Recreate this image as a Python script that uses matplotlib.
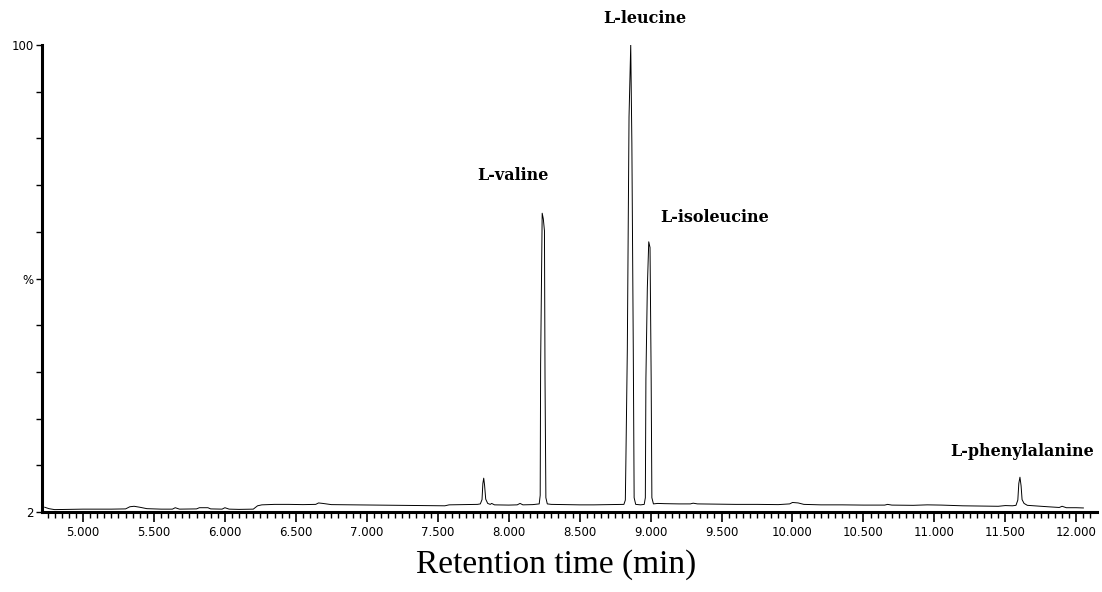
"""
Chromatogram of branched-chain / aromatic amino acids (TIC, % relative intensity).
Re-drawn from a scanned figure: retention time vs. relative abundance.
"""

import numpy as np
import matplotlib
matplotlib.use("Agg")
import matplotlib.pyplot as plt
from matplotlib.ticker import MultipleLocator, FixedLocator

# Trace: retention time (min) and relative intensity (%)
RT = [
    4.73, 4.76, 4.80, 4.90, 5.00, 5.10, 5.20, 5.30, 5.33, 5.36, 5.40, 5.45,
    5.55, 5.63, 5.65, 5.68, 5.80, 5.82, 5.88, 5.90, 5.98, 6.00, 6.03, 6.10,
    6.20, 6.23, 6.26, 6.35, 6.45, 6.55, 6.64, 6.66, 6.69, 6.75, 6.90, 7.05,
    7.20, 7.35, 7.50, 7.55, 7.58, 7.70, 7.78,
    7.800, 7.812, 7.818, 7.824, 7.830, 7.838, 7.852, 7.870,
    7.88, 7.90, 8.00, 8.06, 8.08, 8.10, 8.17,
    8.215, 8.222, 8.225, 8.236, 8.244, 8.252, 8.256, 8.262, 8.272,
    8.30, 8.40, 8.50, 8.60, 8.70, 8.80,
    8.812, 8.822, 8.826, 8.836, 8.848, 8.860, 8.868, 8.878, 8.884, 8.895,
    8.93,
    8.955, 8.963, 8.967, 8.977, 8.987, 8.996, 9.004, 9.009, 9.020,
    9.05, 9.10, 9.20, 9.28, 9.30, 9.33, 9.45, 9.60, 9.75, 9.90, 9.98, 10.00,
    10.04, 10.08, 10.20, 10.35, 10.50, 10.65, 10.67, 10.70, 10.85, 10.95,
    11.05, 11.20, 11.35, 11.45, 11.50, 11.55,
    11.575, 11.588, 11.595, 11.603, 11.611, 11.618, 11.632, 11.655,
    11.70, 11.80, 11.88, 11.90, 11.93, 12.00, 12.05,
]
INTENSITY = [
    3.0, 2.7, 2.5, 2.55, 2.6, 2.6, 2.6, 2.65, 3.1, 3.2, 3.0, 2.7,
    2.6, 2.6, 2.9, 2.6, 2.65, 2.9, 2.9, 2.65, 2.6, 2.9, 2.6, 2.55,
    2.6, 3.3, 3.5, 3.6, 3.6, 3.55, 3.6, 3.9, 3.8, 3.55, 3.5, 3.45,
    3.4, 3.35, 3.3, 3.3, 3.5, 3.55, 3.6,
    3.7, 4.6, 8.0, 9.1, 7.6, 4.7, 3.8, 3.6,
    3.8, 3.5, 3.45, 3.5, 3.8, 3.5, 3.55,
    3.7, 5.5, 33.0, 64.7, 63.5, 61.0, 30.0, 5.0, 3.7,
    3.6, 3.55, 3.5, 3.5, 3.55, 3.6,
    3.6, 4.5, 13.0, 36.0, 84.9, 100.0, 79.4, 36.0, 5.0, 3.6,
    3.5,
    3.6, 5.0, 30.0, 49.0, 58.7, 57.5, 30.0, 5.0, 3.7,
    3.8, 3.75, 3.7, 3.7, 3.85, 3.7, 3.65, 3.6, 3.6, 3.55, 3.7, 4.0,
    3.9, 3.6, 3.5, 3.5, 3.45, 3.45, 3.6, 3.45, 3.4, 3.5,
    3.45, 3.3, 3.25, 3.2, 3.35, 3.3,
    3.4, 4.5, 8.0, 9.3, 7.5, 4.6, 3.8, 3.4,
    3.3, 3.1, 2.95, 3.2, 2.9, 2.9, 2.85,
]

# Peak annotations: name, label position (rt, %)
PEAK_NAMES = ["L-valine", "L-leucine", "L-isoleucine", "L-phenylalanine"]
PEAK_LABEL_RT = [8.03, 8.96, 9.45, 11.62]
PEAK_LABEL_Y = [72.7, 105.5, 63.7, 14.8]

Y_TICK_LABELS = ["2", "", "", "", "", "%", "", "", "", "", "100"]


def plot_chromatogram(out_path: str = "out.png") -> None:
    """Draw the chromatogram with MassLynx-like axes."""
    fig = plt.figure(figsize=(11.02, 5.92), dpi=100)
    ax = fig.add_axes([42 / 1102, 80 / 592, 1055 / 1102, 467 / 592])

    ax.plot(RT, INTENSITY, color="black", lw=0.7)

    ax.set_xlim(4.711, 12.146)
    ax.set_ylim(2, 100)

    for side in ("top", "right"):
        ax.spines[side].set_visible(False)
    for side in ("left", "bottom"):
        ax.spines[side].set_linewidth(2.2)

    # x axis: majors every 0.5 min, minors every 0.05 min
    ax.xaxis.set_major_locator(MultipleLocator(0.5))
    ax.xaxis.set_minor_locator(MultipleLocator(0.05))
    ax.xaxis.set_major_formatter(plt.FuncFormatter(lambda v, _: f"{v:.3f}"))
    ax.tick_params(axis="x", which="major", direction="out", length=7,
                   width=1.2, labelsize=8.5, pad=3)
    ax.tick_params(axis="x", which="minor", direction="out", length=4, width=1)

    # y axis: 10 divisions, only 2 / % / 100 labelled
    ax.yaxis.set_major_locator(FixedLocator(np.linspace(2, 100, 11)))
    ax.set_yticklabels(Y_TICK_LABELS)
    ax.tick_params(axis="y", which="major", direction="out", length=4,
                   width=1, labelsize=8.5, pad=2)

    for name, x, y in zip(PEAK_NAMES, PEAK_LABEL_RT, PEAK_LABEL_Y):
        ax.text(x, y, name, ha="center", va="center", fontsize=11.5,
                fontweight="bold", family="DejaVu Serif", clip_on=False)

    fig.text(556 / 1102, 1 - 565 / 592, "Retention time (min)",
             ha="center", va="center", fontsize=24, family="Liberation Serif")

    fig.savefig(out_path, dpi=100)
    plt.close(fig)


if __name__ == "__main__":
    plot_chromatogram()
